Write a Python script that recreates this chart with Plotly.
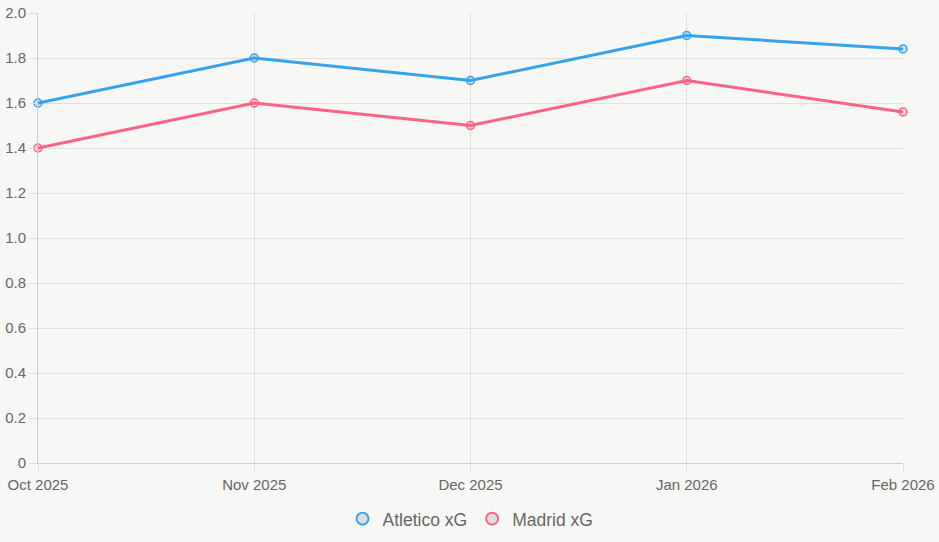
import plotly.graph_objects as go

months = ["Oct 2025", "Nov 2025", "Dec 2025", "Jan 2026", "Feb 2026"]
atletico_xg = [1.6, 1.8, 1.7, 1.9, 1.84]
madrid_xg = [1.4, 1.6, 1.5, 1.7, 1.56]
y_ticks = [0, 0.2, 0.4, 0.6, 0.8, 1.0, 1.2, 1.4, 1.6, 1.8, 2.0]
y_tick_text = ["0", "0.2", "0.4", "0.6", "0.8", "1.0", "1.2", "1.4", "1.6", "1.8", "2.0"]

BLUE = "#36A2EB"
PINK = "#FF6384"
GRID = "#e0e0e0"
TXT = "#666666"

fig = go.Figure()
for name, vals, col, fill in [("Atletico xG", atletico_xg, BLUE, "rgba(54,162,235,0.25)"),
                              ("Madrid xG", madrid_xg, PINK, "rgba(255,99,132,0.25)")]:
    fig.add_trace(go.Scatter(
        x=months, y=vals, mode="lines+markers", name=name, showlegend=False,
        line=dict(color=col, width=3),
        marker=dict(size=8, color=fill, line=dict(color=col, width=1.5)),
        cliponaxis=False,
    ))
for name, col in [("Atletico xG", BLUE), ("Madrid xG", PINK)]:
    fig.add_trace(go.Scatter(
        x=[None], y=[None], mode="markers", name=name,
        marker=dict(size=14, color="#dddddd", line=dict(color=col, width=1.5)),
    ))

fig.update_layout(
    width=939, height=542,
    margin=dict(l=38, r=36, t=13, b=79, autoexpand=False),
    paper_bgcolor="#f7f7f5", plot_bgcolor="#f7f7f5",
    font=dict(family="Liberation Sans, Arial, sans-serif", color=TXT, size=15),
    legend=dict(orientation="h", x=0.5, xanchor="center", y=-0.124, yanchor="middle",
                font=dict(size=17.5, color=TXT), itemsizing="constant",
                bgcolor="rgba(0,0,0,0)", traceorder="normal"),
    xaxis=dict(type="category", range=[0, 4], showgrid=True, gridcolor=GRID, gridwidth=1,
               ticks="outside", ticklen=8, tickcolor=GRID, showline=True,
               linecolor="#cccccc", linewidth=1, zeroline=False, automargin=False,
               tickfont=dict(size=15, color=TXT), fixedrange=True),
    yaxis=dict(range=[0, 2.0], tickvals=y_ticks, ticktext=y_tick_text, showgrid=True,
               gridcolor=GRID, gridwidth=1, ticks="outside", ticklen=8, tickcolor=GRID,
               showline=True, linecolor="#cccccc", linewidth=1, zeroline=False,
               automargin=False, tickfont=dict(size=15, color=TXT), fixedrange=True),
)

fig.write_html("out.html")
